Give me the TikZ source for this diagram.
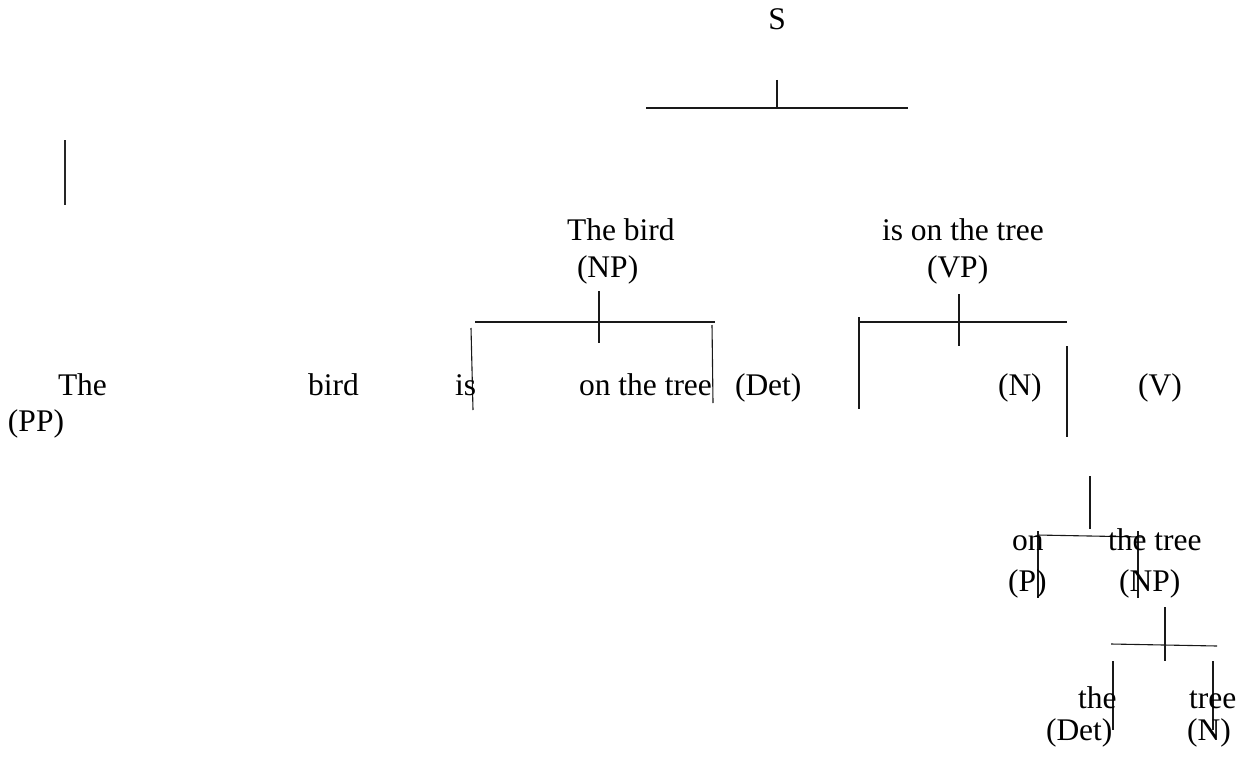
\documentclass[tikz,border=0pt]{standalone}
\usepackage{fontspec}
\setmainfont{Liberation Serif}
\newfontfamily\timesface{Liberation Serif}
\begin{document}
\begin{tikzpicture}[x=1pt,y=-1pt,
  word/.style={anchor=base west,inner sep=0pt,outer sep=0pt,font=\timesface\fontsize{31.5}{38}\selectfont},
  rule/.style={line width=1.1pt,black!90},
  heavy/.style={line width=2.4pt,black!85}]
\useasboundingbox (0,0) rectangle (1241,757);

% root
\node[word,anchor=base] (s) at (777,30) {S};
\coordinate (s1) at (777,80); \coordinate (s2) at (777,108);
\coordinate (sl) at (646,108); \coordinate (sr) at (908,108);
\draw[rule] (s1) -- (s2);
\draw[rule] (sl) -- (sr);

% stray bar on the left
\coordinate (b1) at (65,140); \coordinate (b2) at (65,205);
\draw[heavy] (b1) -- (b2);

% second level
\node[word] (np) at (567,240) {The bird};
\node[word] (npl) at (577,277) {(NP)};
\node[word] (vp) at (882,240) {is on the tree};
\node[word] (vpl) at (927,277) {(VP)};

% NP bracket
\coordinate (n1) at (599,291); \coordinate (n2) at (599,343);
\coordinate (nl) at (475,322); \coordinate (nr) at (715,322);
\coordinate (nla) at (471,328); \coordinate (nlb) at (473,410);
\coordinate (nra) at (712,325); \coordinate (nrb) at (713,403);
\draw[rule] (n1) -- (n2);
\draw[rule] (nl) -- (nr);
\draw[rule] (nla) -- (nlb);
\draw[rule] (nra) -- (nrb);

% VP bracket
\coordinate (v1) at (959,294); \coordinate (v2) at (959,346);
\coordinate (vl) at (859,322); \coordinate (vr) at (1067,322);
\coordinate (vla) at (859,317); \coordinate (vlb) at (859,409);
\coordinate (vra) at (1067,346); \coordinate (vrb) at (1067,437);
\draw[rule] (v1) -- (v2);
\draw[rule] (vl) -- (vr);
\draw[rule] (vla) -- (vlb);
\draw[rule] (vra) -- (vrb);

% third row
\node[word] (the) at (58,395) {The};
\node[word] (bird) at (308,395) {bird};
\node[word] (pp) at (8,431) {(PP)};
\node[word] (is) at (455,395) {is};
\node[word] (ontree) at (579,395) {on the tree};
\node[word] (det) at (735,395) {(Det)};
\node[word] (n) at (998,395) {(N)};
\node[word] (v) at (1138,395) {(V)};

% PP bracket
\coordinate (p1) at (1090,476); \coordinate (p2) at (1090,529);
\coordinate (pl) at (1037,535); \coordinate (pr) at (1142,537);
\coordinate (pla) at (1038,531); \coordinate (plb) at (1038,598);
\coordinate (pra) at (1138,531); \coordinate (prb) at (1138,598);
\draw[rule] (p1) -- (p2);
\draw[rule] (pl) -- (pr);
\draw[rule] (pla) -- (plb);
\draw[rule] (pra) -- (prb);

\node[word] (on) at (1012,550) {on};
\node[word] (thetree) at (1108,550) {the tree};
\node[word] (pl2) at (1008,591) {(P)};
\node[word] (np2) at (1119,591) {(NP)};

% lower NP bracket
\coordinate (q1) at (1165,607); \coordinate (q2) at (1165,661);
\coordinate (ql) at (1111,644); \coordinate (qr) at (1217,646);
\coordinate (qla) at (1113,661); \coordinate (qlb) at (1113,730);
\coordinate (qra) at (1213,661); \coordinate (qrb) at (1213,730);
\draw[rule] (q1) -- (q2);
\draw[rule] (ql) -- (qr);
\draw[rule] (qla) -- (qlb);
\draw[rule] (qra) -- (qrb);

\node[word] (the2) at (1078,708) {the};
\node[word] (tree2) at (1189,708) {tree};
\node[word] (det2) at (1046,740) {(Det)};
\node[word] (n2) at (1187,740) {(N)};
\end{tikzpicture}
\end{document}
